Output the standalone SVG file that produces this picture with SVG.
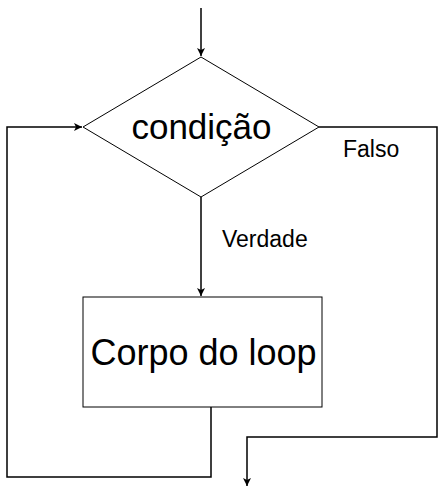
<svg xmlns="http://www.w3.org/2000/svg" width="439" height="496" viewBox="0 0 439 496">
<style>
.shape{fill:#fff;stroke:#000;stroke-width:1}
.edge{fill:none;stroke:#000;stroke-width:1.5}
.big{font-family:"Liberation Sans",Arial,sans-serif;font-size:35px;fill:#000;text-anchor:middle}
.lbl{font-family:"Liberation Sans",Arial,sans-serif;font-size:23px;fill:#000}
</style>
<defs>
<marker id="arr" markerWidth="10" markerHeight="10" refX="8" refY="4" orient="auto" markerUnits="userSpaceOnUse">
<path d="M0,0 L8,4 L0,8 L2,4 Z" fill="#000"/>
</marker>
</defs>
<rect width="439" height="496" fill="#fff"/>
<g id="connectors">
<path class="edge" d="M201,8 V56" marker-end="url(#arr)"/>
<path class="edge" d="M201,197 V296" marker-end="url(#arr)"/>
<path class="edge" d="M319,127 H437 V437 H247 V486" marker-end="url(#arr)"/>
<path class="edge" d="M211,407 V477 H7 V127 H82" marker-end="url(#arr)"/>
<text class="lbl" x="343" y="157">Falso</text>
<text class="lbl" x="222" y="247">Verdade</text>
</g>
<g id="cond">
<polygon class="shape" points="201,57 319,127 201,197 83,127"/>
<text class="big" x="201.5" y="139">condição</text>
</g>
<g id="body">
<rect class="shape" x="83" y="297" width="239" height="110"/>
<text class="big" x="203.5" y="365" style="font-size:36px">Corpo do loop</text>
</g>
</svg>
